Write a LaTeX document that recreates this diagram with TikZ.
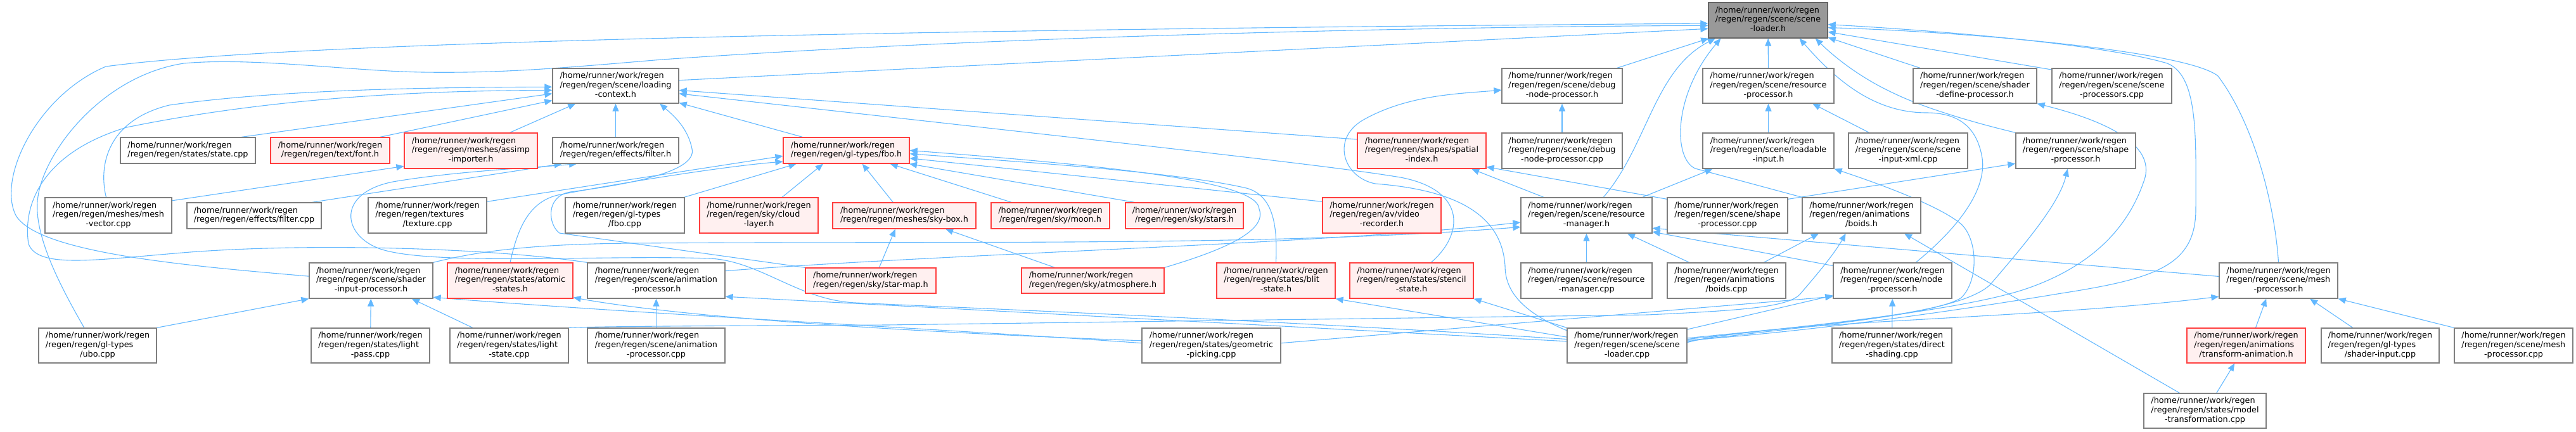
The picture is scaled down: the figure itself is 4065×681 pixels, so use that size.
\documentclass[tikz,border=0pt]{standalone}
\usepackage{fontspec}
\setmainfont{DejaVu Sans}
\usetikzlibrary{arrows.meta}
\definecolor{edgeblue}{HTML}{63B8FF}
\definecolor{boxgray}{HTML}{7F7F7F}
\definecolor{redborder}{HTML}{FF3F3F}
\definecolor{redfill}{HTML}{FFF0F0}
\definecolor{mainfill}{HTML}{999999}
\definecolor{mainborder}{HTML}{666666}
\pgfdeclarelayer{bg}
\pgfsetlayers{bg,main}
\newcommand{\hm}{/home/runner/work/regen}
\newcommand{\ThreeL}[3]{\begin{tabular}{@{}l@{}}#1\\#2\\\multicolumn{1}{@{}c@{}}{#3}\end{tabular}}
\newcommand{\TwoL}[2]{\begin{tabular}{@{}l@{}}#1\\\multicolumn{1}{@{}c@{}}{#2}\end{tabular}}
\tikzset{
  box/.style={rectangle, draw=boxgray, fill=white, line width=1.3pt, inner xsep=3pt, inner ysep=0pt,
    font=\fontsize{12.8}{14.8}\selectfont, text=black},
  redbox/.style={box, draw=redborder, fill=redfill},
  mainbox/.style={box, draw=mainborder, fill=mainfill},
  edge/.style={draw=edgeblue, line width=1.1pt, -{Triangle[length=12pt,width=10pt]}},
}
\begin{document}
\begin{tikzpicture}[x=1pt,y=-1pt]
\useasboundingbox (0,0) rectangle (4065,681);
% row 0
\node[mainbox, minimum width=188pt, minimum height=56pt] (SLh) at (2790,32) {\ThreeL{\hm}{/regen/regen/scene/scene}{-loader.h}};
% row 1
\node[box, minimum width=199pt, minimum height=55pt] (LC) at (971.5,135.5) {\ThreeL{\hm}{/regen/regen/scene/loading}{-context.h}};
\node[box, minimum width=190pt, minimum height=55pt] (DNPh) at (2465,135.5) {\ThreeL{\hm}{/regen/regen/scene/debug}{-node-processor.h}};
\node[box, minimum width=207pt, minimum height=55pt] (RPh) at (2790.5,135.5) {\ThreeL{\hm}{/regen/regen/scene/resource}{-processor.h}};
\node[box, minimum width=195pt, minimum height=55pt] (SDPh) at (3116.5,135.5) {\ThreeL{\hm}{/regen/regen/scene/shader}{-define-processor.h}};
\node[box, minimum width=189pt, minimum height=55pt] (SPcpp) at (3332.5,135.5) {\ThreeL{\hm}{/regen/regen/scene/scene}{-processors.cpp}};
% row 2
\node[box, minimum width=213pt, minimum height=41pt] (STcpp) at (296.5,237.5) {\TwoL{\hm}{/regen/regen/states/state.cpp}};
\node[redbox, minimum width=188pt, minimum height=41pt] (FONT) at (521,237.5) {\TwoL{\hm}{/regen/regen/text/font.h}};
\node[redbox, minimum width=210pt, minimum height=56pt] (ASSIMP) at (743,238) {\ThreeL{\hm}{/regen/regen/meshes/assimp}{-importer.h}};
\node[box, minimum width=199pt, minimum height=41pt] (FILTh) at (971.5,237.5) {\TwoL{\hm}{/regen/regen/effects/filter.h}};
\node[redbox, minimum width=199pt, minimum height=41pt] (FBOh) at (1335.5,237.5) {\TwoL{\hm}{/regen/regen/gl-types/fbo.h}};
\node[redbox, minimum width=203pt, minimum height=56pt] (SPATIAL) at (2243.5,238) {\ThreeL{\hm}{/regen/regen/shapes/spatial}{-index.h}};
\node[box, minimum width=190pt, minimum height=56pt] (DNPcpp) at (2465,238) {\ThreeL{\hm}{/regen/regen/scene/debug}{-node-processor.cpp}};
\node[box, minimum width=207pt, minimum height=56pt] (LIh) at (2790.5,238) {\ThreeL{\hm}{/regen/regen/scene/loadable}{-input.h}};
\node[box, minimum width=188pt, minimum height=56pt] (XMLcpp) at (3011,238) {\ThreeL{\hm}{/regen/regen/scene/scene}{-input-xml.cpp}};
\node[box, minimum width=189pt, minimum height=56pt] (SHPh) at (3275.5,238) {\ThreeL{\hm}{/regen/regen/scene/shape}{-processor.h}};
% row 3
\node[box, minimum width=200pt, minimum height=56pt] (MVcpp) at (171,340) {\ThreeL{\hm}{/regen/regen/meshes/mesh}{-vector.cpp}};
\node[box, minimum width=212pt, minimum height=41pt] (FILTcpp) at (401,340.5) {\TwoL{\hm}{/regen/regen/effects/filter.cpp}};
\node[box, minimum width=187pt, minimum height=56pt] (TEXcpp) at (674.5,340) {\ThreeL{\hm}{/regen/regen/textures}{/texture.cpp}};
\node[box, minimum width=188pt, minimum height=56pt] (FBOcpp) at (986,340) {\ThreeL{\hm}{/regen/regen/gl-types}{/fbo.cpp}};
\node[redbox, minimum width=187pt, minimum height=56pt] (CLOUD) at (1197.5,340) {\ThreeL{\hm}{/regen/regen/sky/cloud}{-layer.h}};
\node[redbox, minimum width=226pt, minimum height=41pt] (SKYBOX) at (1427,340.5) {\TwoL{\hm}{/regen/regen/meshes/sky-box.h}};
\node[redbox, minimum width=187pt, minimum height=41pt] (MOON) at (1657.5,340.5) {\TwoL{\hm}{/regen/regen/sky/moon.h}};
\node[redbox, minimum width=186pt, minimum height=41pt] (STARS) at (1869,340.5) {\TwoL{\hm}{/regen/regen/sky/stars.h}};
\node[redbox, minimum width=187pt, minimum height=56pt] (VIDEO) at (2180.5,340) {\ThreeL{\hm}{/regen/regen/av/video}{-recorder.h}};
\node[box, minimum width=207pt, minimum height=56pt] (RMh) at (2503.5,340) {\ThreeL{\hm}{/regen/regen/scene/resource}{-manager.h}};
\node[box, minimum width=190pt, minimum height=56pt] (SHPcpp) at (2726,340) {\ThreeL{\hm}{/regen/regen/scene/shape}{-processor.cpp}};
\node[box, minimum width=187pt, minimum height=56pt] (BOIDSh) at (2937.5,340) {\ThreeL{\hm}{/regen/regen/animations}{/boids.h}};
% row 4
\node[box, minimum width=195pt, minimum height=56pt] (SIPh) at (585.5,443) {\ThreeL{\hm}{/regen/regen/scene/shader}{-input-processor.h}};
\node[redbox, minimum width=198pt, minimum height=56pt] (ATOMIC) at (805,443) {\ThreeL{\hm}{/regen/regen/states/atomic}{-states.h}};
\node[box, minimum width=217pt, minimum height=56pt] (APh) at (1035.5,443) {\ThreeL{\hm}{/regen/regen/scene/animation}{-processor.h}};
\node[redbox, minimum width=206pt, minimum height=40pt] (STARMAP) at (1374,443) {\TwoL{\hm}{/regen/regen/sky/star-map.h}};
\node[redbox, minimum width=225pt, minimum height=40pt] (ATMOS) at (1724.5,443) {\TwoL{\hm}{/regen/regen/sky/atmosphere.h}};
\node[redbox, minimum width=187pt, minimum height=56pt] (BLIT) at (2013.5,443) {\ThreeL{\hm}{/regen/regen/states/blit}{-state.h}};
\node[redbox, minimum width=195pt, minimum height=56pt] (STENCIL) at (2227.5,443) {\ThreeL{\hm}{/regen/regen/states/stencil}{-state.h}};
\node[box, minimum width=207pt, minimum height=56pt] (RMcpp) at (2503.5,443) {\ThreeL{\hm}{/regen/regen/scene/resource}{-manager.cpp}};
\node[box, minimum width=187pt, minimum height=56pt] (BOIDScpp) at (2724.5,443) {\ThreeL{\hm}{/regen/regen/animations}{/boids.cpp}};
\node[box, minimum width=187pt, minimum height=56pt] (NPh) at (2986.5,443) {\ThreeL{\hm}{/regen/regen/scene/node}{-processor.h}};
\node[box, minimum width=187pt, minimum height=56pt] (MPh) at (3595.5,443) {\ThreeL{\hm}{/regen/regen/scene/mesh}{-processor.h}};
% row 5
\node[box, minimum width=186pt, minimum height=55pt] (UBO) at (154,545.5) {\ThreeL{\hm}{/regen/regen/gl-types}{/ubo.cpp}};
\node[box, minimum width=187pt, minimum height=55pt] (LPcpp) at (584.5,545.5) {\ThreeL{\hm}{/regen/regen/states/light}{-pass.cpp}};
\node[box, minimum width=187pt, minimum height=55pt] (LScpp) at (803.5,545.5) {\ThreeL{\hm}{/regen/regen/states/light}{-state.cpp}};
\node[box, minimum width=217pt, minimum height=55pt] (APcpp) at (1035.5,545.5) {\ThreeL{\hm}{/regen/regen/scene/animation}{-processor.cpp}};
\node[box, minimum width=219pt, minimum height=55pt] (GEOM) at (1911.5,545.5) {\ThreeL{\hm}{/regen/regen/states/geometric}{-picking.cpp}};
\node[box, minimum width=189pt, minimum height=55pt] (SLcpp) at (2567.5,545.5) {\ThreeL{\hm}{/regen/regen/scene/scene}{-loader.cpp}};
\node[box, minimum width=189pt, minimum height=55pt] (DScpp) at (2985.5,545.5) {\ThreeL{\hm}{/regen/regen/states/direct}{-shading.cpp}};
\node[redbox, minimum width=187pt, minimum height=55pt] (TAh) at (3544.5,545.5) {\ThreeL{\hm}{/regen/regen/animations}{/transform-animation.h}};
\node[box, minimum width=186pt, minimum height=55pt] (SIcpp) at (3756,545.5) {\ThreeL{\hm}{/regen/regen/gl-types}{/shader-input.cpp}};
\node[box, minimum width=187pt, minimum height=55pt] (MPcpp) at (3966.5,545.5) {\ThreeL{\hm}{/regen/regen/scene/mesh}{-processor.cpp}};
% row 6
\node[box, minimum width=193pt, minimum height=55pt] (MTcpp) at (3479.5,648.5) {\ThreeL{\hm}{/regen/regen/states/model}{-transformation.cpp}};

\begin{pgfonlayer}{bg}
% into scene-loader.h
\draw[edge] (LC.5) -- (SLh.188);
\draw[edge] (SIPh.176) .. controls (300,420) and (60,400) .. (25,340) .. controls (-5,280) and (60,150) .. (167,105) .. controls (500,60) and (1700,45) .. (SLh.183);
\draw[edge] (UBO.127) .. controls (100,460) and (50,370) .. (60,310) .. controls (70,240) and (160,120) .. (290,100) .. controls (400,90) and (550,112) .. (667,114) .. controls (800,116) and (900,106) .. (1045,94) .. controls (1600,55) and (2300,42) .. (SLh.185);
\draw[edge] (DNPh.18) -- (SLh.197);
\draw[edge] (RMh.47) .. controls (2600,230) and (2610,110) .. (SLh.199);
\draw[edge] (BOIDSh.north west) -- (2675,266) .. controls (2640,250) and (2640,150) .. (SLh.201);
\draw[edge] (RPh) -- (SLh);
\draw[edge] (NPh.38) .. controls (3090,360) and (3135,300) .. (3128,250) .. controls (3120,200) and (3090,178) .. (3040,178) .. controls (2960,178) and (2900,130) .. (SLh.-30);
\draw[edge] (SHPh.north west) .. controls (3120,195) and (3040,172) .. (2990,148) .. controls (2940,125) and (2900,95) .. (SLh.-21);
\draw[edge] (SDPh.162) -- (SLh.-16);
\draw[edge] (SPcpp.165) -- (SLh.-11);
\draw[edge] (SLcpp.5) .. controls (2900,520) and (3150,480) .. (3253,463) .. controls (3400,440) and (3465,420) .. (3465,330) .. controls (3465,220) and (3470,120) .. (3420,100) .. controls (3300,65) and (3000,45) .. (SLh.-4);
\draw[edge] (MPh.north) .. controls (3590,330) and (3560,200) .. (3500,120) .. controls (3450,80) and (3100,50) .. (SLh.-7);
% into loading-context.h
\draw[edge] (MVcpp.97) .. controls (155,260) and (170,190) .. (267,166) .. controls (450,140) and (700,138) .. (LC.181);
\draw[edge] (APh.north west) .. controls (780,392) and (500,383) .. (300,398) .. controls (150,410) and (60,425) .. (45,385) .. controls (35,320) and (70,240) .. (200,201) .. controls (450,150) and (700,143) .. (LC.184);
\draw[edge] (STcpp.14) -- (LC.187);
\draw[edge] (FONT.15) -- (LC.193);
\draw[edge] (ASSIMP.25) -- (LC.204);
\draw[edge] (FILTh) -- (LC);
\draw[edge] (FBOh.163) -- (LC.-15);
\draw[edge] (STARMAP.north west) -- (883,368) .. controls (865,355) and (860,310) .. (900,303) .. controls (1000,290) and (1100,270) .. (1092,235) .. controls (1085,200) and (1060,180) .. (LC.-22);
\draw[edge] (SPATIAL.170) -- (LC.-4);
\draw[edge] (STENCIL.43) .. controls (2310,370) and (2315,300) .. (2210,280) .. controls (2100,262) and (1900,240) .. (LC.-7);
% debug-node-processor.h
\draw[edge] (DNPcpp) -- (DNPh);
\draw[edge] (SLcpp.166) .. controls (2420,500) and (2375,470) .. (2375,420) .. controls (2370,340) and (2300,300) .. (2170,290) .. controls (2120,280) and (2100,220) .. (2150,190) .. controls (2220,150) and (2300,148) .. (DNPh.184);
% resource-processor.h
\draw[edge] (LIh) -- (RPh);
\draw[edge] (XMLcpp.155) -- (RPh.-22);
% shader-define-processor.h
\draw[edge] (SLcpp.6) .. controls (2850,515) and (3100,490) .. (3200,455) .. controls (3300,420) and (3360,360) .. (3385,280) .. controls (3400,220) and (3300,185) .. (SDPh.south east);
% shape-processor.h
\draw[edge] (SHPcpp.15) -- (SHPh.192);
\draw[edge] (SLcpp.7) .. controls (2900,510) and (3090,495) .. (3140,450) .. controls (3200,380) and (3250,320) .. (SHPh.-114);
% assimp
\draw[edge] (MVcpp.13) -- (ASSIMP.193);
% filter.h
\draw[edge] (FILTcpp.13) -- (FILTh.194);
\draw[edge] (SLcpp.174) .. controls (2000,505) and (1500,485) .. (1350,478) .. controls (1260,474) and (1200,412) .. (1120,408) .. controls (950,402) and (680,420) .. (600,393) .. controls (540,372) and (530,305) .. (620,287) .. controls (720,270) and (840,265) .. (FILTh.199);
% fbo.h
\draw[edge] (TEXcpp.13) -- (FBOh.185);
\draw[edge] (FBOcpp.17) -- (FBOh.195);
\draw[edge] (CLOUD.38) -- (FBOh.210);
\draw[edge] (SKYBOX.130) -- (FBOh.-40);
\draw[edge] (MOON.161) -- (FBOh.-17);
\draw[edge] (STARS.165) -- (FBOh.-12);
\draw[edge] (VIDEO.167) -- (FBOh.-7);
\draw[edge] (ATMOS.north east) .. controls (1930,395) and (2000,365) .. (1987,330) .. controls (1985,290) and (1800,265) .. (FBOh.0);
\draw[edge] (BLIT.north) .. controls (2015,370) and (2015,310) .. (1967,297) .. controls (1850,270) and (1600,255) .. (FBOh.-3);
\draw[edge] (ATOMIC.north) .. controls (815,370) and (830,320) .. (880,308) .. controls (1000,285) and (1150,262) .. (FBOh.190);
% sky-box.h
\draw[edge] (STARMAP.57) -- (SKYBOX.236);
\draw[edge] (ATMOS.161) -- (SKYBOX.-18);
% spatial-index.h
\draw[edge] (RMh.157) -- (SPATIAL.-20);
\draw[edge] (SHPcpp.165) -- (SPATIAL.-14);
% resource-manager.h
\draw[edge] (RMcpp) -- (RMh);
\draw[edge] (BOIDScpp.154) -- (RMh.-24);
\draw[edge] (NPh.166) -- (RMh.-14);
\draw[edge] (MPh.176) -- (RMh.-11);
\draw[edge] (SIPh.north east) .. controls (760,395) and (850,385) .. (1000,384) .. controls (1500,380) and (2000,390) .. (RMh.190);
\draw[edge] (APh.8) .. controls (1500,400) and (2100,385) .. (RMh.186);
% loadable-input.h
\draw[edge] (RMh.18) -- (LIh.198);
\draw[edge] (SLcpp.4) .. controls (2800,520) and (3050,500) .. (3095,470) .. controls (3125,440) and (3120,370) .. (3090,350) .. controls (3050,320) and (2950,285) .. (LIh.south east);
% boids.h
\draw[edge] (BOIDScpp.26) -- (BOIDSh.203);
\draw[edge] (LScpp.north east) .. controls (950,515) and (1200,514) .. (1400,513) -- (2600,497) .. controls (2750,490) and (2820,485) .. (2840,465) .. controls (2870,430) and (2895,400) .. (BOIDSh.-131);
\draw[edge] (MTcpp.145) -- (BOIDSh.-23);
% blit / stencil
\draw[edge] (SLcpp.172) -- (BLIT.south east);
\draw[edge] (SLcpp.north west) -- (STENCIL.south east);
% shader-input-processor.h
\draw[edge] (UBO.north east) -- (SIPh.south west);
\draw[edge] (LPcpp) -- (SIPh);
\draw[edge] (LScpp.154) -- (SIPh.-24);
\draw[edge] (GEOM.178) .. controls (1500,520) and (1000,495) .. (SIPh.-15);
% atomic-states.h
\draw[edge] (GEOM.176) .. controls (1500,527) and (1100,505) .. (ATOMIC.-15);
% animation-processor.h
\draw[edge] (SLcpp.176) -- (APh.-13);
\draw[edge] (APcpp) -- (APh);
% node-processor.h
\draw[edge] (GEOM.2) -- (NPh.195);
\draw[edge] (SLcpp.15) -- (NPh.194);
\draw[edge] (DScpp) -- (NPh);
% mesh-processor.h
\draw[edge] (SLcpp.3) .. controls (2800,505) and (3200,505) .. (MPh.195);
\draw[edge] (TAh.62) -- (MPh.236);
\draw[edge] (SIcpp.147) -- (MPh.-30);
\draw[edge] (MPcpp.north west) -- (MPh.south east);
% transform-animation.h
\draw[edge] (MTcpp.57) -- (TAh.237);
\end{pgfonlayer}
\end{tikzpicture}
\end{document}
